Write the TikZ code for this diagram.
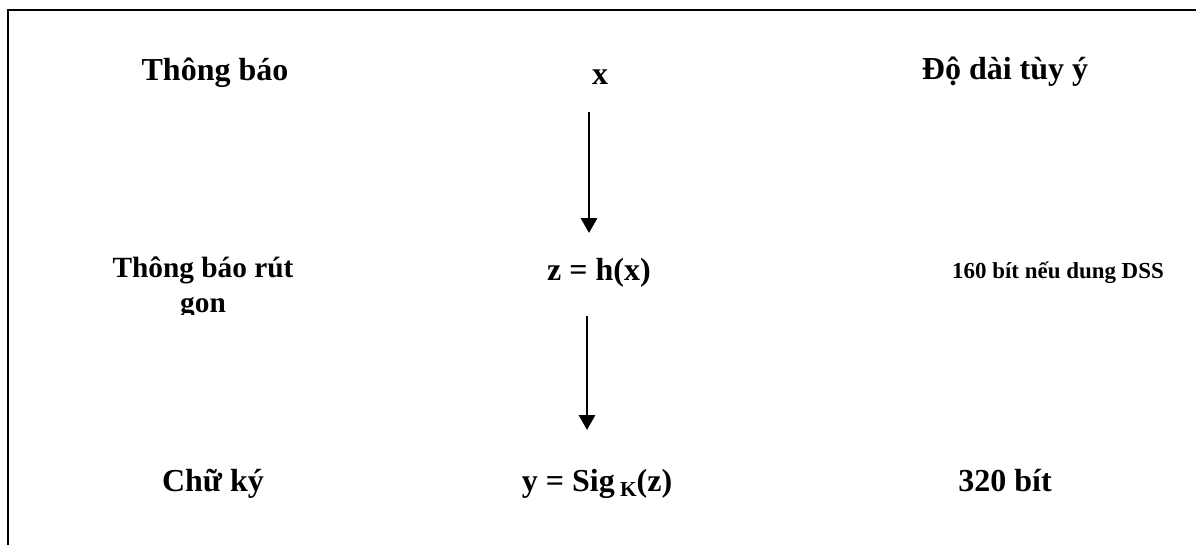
\documentclass[tikz,border=0pt]{standalone}
\usepackage{fontspec}
\setmainfont{Liberation Serif}
\usepackage{tikz}
\usetikzlibrary{arrows.meta,positioning,calc}

\begin{document}
\begin{tikzpicture}[x=0.375pt,y=-0.375pt,
  >={Triangle[length=5.6pt,width=6pt]},
  lbl/.style={anchor=base,inner sep=0pt,font=\bfseries\fontsize{12}{14}\selectfont},
  flow/.style={->,line width=1.1pt},
  frame/.style={line width=1.1pt}]

\useasboundingbox (0,0) rectangle (1196,545);

%% Open frame (top and left edges only)
\draw[frame] (8,545) -- (8,10) -- (1196,10);

%% Row 1: message
\node[lbl] (msg)  at (215,81)  {Thông báo};
\node[lbl] (x)    at (600,85)  {x};
\node[lbl] (len1) at (1005,80) {Độ dài tùy ý};

%% Row 2: digest (second line cut off as in the text box)
\begin{scope}
  \clip (100,240) rectangle (320,314);
  \node[lbl,align=center,font=\bfseries\fontsize{11}{12.8}\selectfont] (dig) at (203,312) {Thông báo rút\\gon};
\end{scope}
\node[lbl] (z)    at (599,280) {z = h(x)};
\node[lbl,font=\bfseries\fontsize{8.6}{11}\selectfont] (len2) at (1058,278) {160 bít nếu dung DSS};

%% Row 3: signature
\node[lbl] (sig)  at (213,491) {Chữ ký};
\node[lbl] (y)    at (597,491) {y = Sig\,\raisebox{-0.4ex}{\fontsize{8}{9}\selectfont K}(z)};
\node[lbl] (len3) at (1005,491) {320 bít};

%% Arrows between the rows
\coordinate (a1s) at (589,112);
\coordinate (a1e) at (589,233);
\coordinate (a2s) at (587,316);
\coordinate (a2e) at (587,430);
\draw[flow] (a1s) -- (a1e);
\draw[flow] (a2s) -- (a2e);

\end{tikzpicture}
\end{document}
